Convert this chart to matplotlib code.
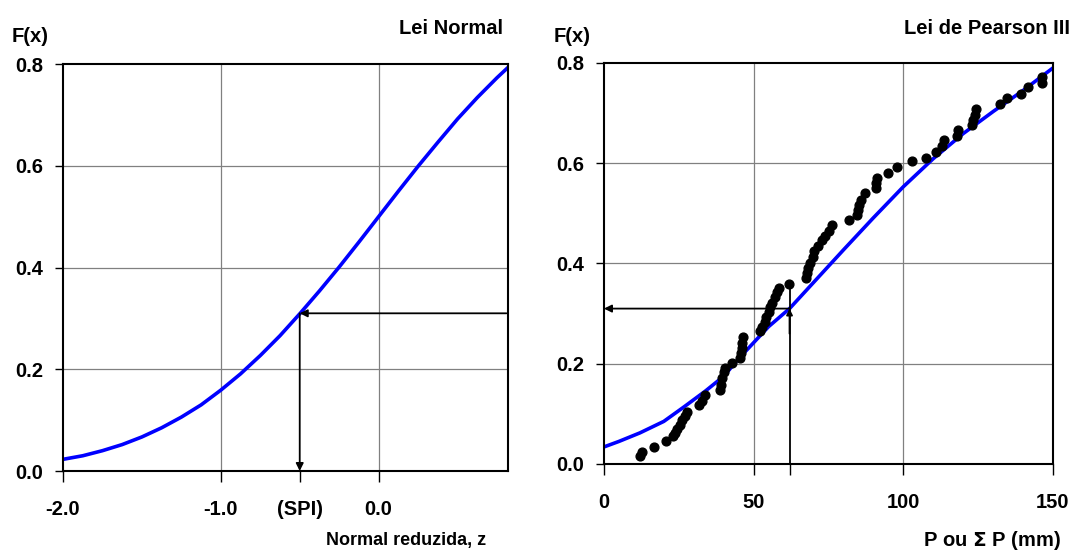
import matplotlib
matplotlib.use("Agg")
import matplotlib.pyplot as plt

# fonte parecida com Arial negrito
plt.rcParams['font.family'] = ['Liberation Sans', 'DejaVu Sans']
plt.rcParams['font.weight'] = 'bold'
plt.rcParams['axes.labelweight'] = 'bold'

# curva da lei normal
z_normal = [-2.0, -1.875, -1.75, -1.625, -1.5, -1.375, -1.25, -1.125, -1.0, -0.875, -0.75, -0.625, -0.5,
            -0.375, -0.25, -0.125, 0.0, 0.125, 0.25, 0.375, 0.5, 0.625, 0.75, 0.85]
f_normal = [0.023, 0.030, 0.040, 0.052, 0.067, 0.085, 0.106, 0.130, 0.159, 0.191, 0.227, 0.266, 0.309,
            0.354, 0.401, 0.450, 0.500, 0.550, 0.599, 0.646, 0.692, 0.734, 0.773, 0.802]

# curva da lei de Pearson III
x_pearson = [0, 5, 12, 20, 27, 34, 40, 45, 50, 55, 62, 70, 80, 90, 100, 110, 120, 130, 140, 150, 155]
f_pearson = [0.034, 0.045, 0.062, 0.085, 0.115, 0.146, 0.175, 0.210, 0.242, 0.274, 0.310, 0.362, 0.427,
             0.491, 0.553, 0.609, 0.659, 0.703, 0.745, 0.790, 0.810]

# pontos observados
p_obs = [12.0, 12.6, 16.8, 20.7, 22.9, 23.7, 24.4, 25.3, 26.2, 27.0, 27.6, 31.7, 32.6, 33.7, 38.7, 39.0,
         39.4, 40.0, 40.3, 42.9, 45.6, 45.9, 46.1, 46.2, 46.4, 52.0, 52.9, 53.7, 54.2, 55.0, 55.6, 56.2,
         57.3, 57.8, 58.4, 61.8, 67.6, 67.8, 68.1, 68.7, 69.8, 70.3, 71.4, 72.9, 74.0, 75.1, 76.2, 82.0,
         84.4, 84.9, 85.3, 85.9, 87.3, 90.9, 90.9, 91.1, 94.8, 97.8, 102.9, 107.6, 110.9, 113.1, 113.7,
         118.1, 118.4, 123.1, 123.4, 123.9, 124.4, 132.2, 134.8, 139.2, 141.7, 146.2, 146.4]
f_obs = [0.016, 0.023, 0.033, 0.045, 0.055, 0.062, 0.069, 0.078, 0.088, 0.096, 0.104, 0.118, 0.126, 0.138,
         0.148, 0.158, 0.171, 0.184, 0.191, 0.202, 0.211, 0.221, 0.231, 0.241, 0.254, 0.266, 0.274, 0.284,
         0.294, 0.304, 0.314, 0.322, 0.334, 0.343, 0.351, 0.359, 0.371, 0.381, 0.391, 0.401, 0.413, 0.424,
         0.435, 0.447, 0.455, 0.464, 0.477, 0.486, 0.497, 0.507, 0.517, 0.527, 0.540, 0.550, 0.560, 0.570,
         0.581, 0.593, 0.605, 0.611, 0.623, 0.635, 0.647, 0.655, 0.667, 0.677, 0.687, 0.697, 0.708, 0.719,
         0.730, 0.739, 0.752, 0.760, 0.773]

# valores do SPI
spi_z = -0.5
spi_f = 0.31
spi_p = 62
p_top = 0.36

fig = plt.figure(figsize=(10.72, 5.5), dpi=100)
ax1 = fig.add_axes([0.0588, 0.1436, 0.4151, 0.740])
ax2 = fig.add_axes([0.5634, 0.1564, 0.4188, 0.7291])

grid_cor = '#808080'
fs = 14.5

# ---- Lei Normal
ax1.plot(z_normal, f_normal, color='#0000ff', lw=2.6, zorder=3)
ax1.set_xlim(-2.0, 0.82)
ax1.set_ylim(0, 0.8)
for v in [-1.0, 0.0]:
    ax1.axvline(v, color=grid_cor, lw=0.9, zorder=1)
for v in [0.2, 0.4, 0.6]:
    ax1.axhline(v, color=grid_cor, lw=0.9, zorder=1)
ax1.set_xticks([-2.0, -1.0, spi_z, 0.0])
ax1.set_xticklabels(['-2.0', '-1.0', '(SPI)', '0.0'])
ax1.set_yticks([0.0, 0.2, 0.4, 0.6, 0.8])
ax1.set_yticklabels(['0.0', '0.2', '0.4', '0.6', '0.8'])
# setas
ax1.annotate('', xy=(spi_z, spi_f), xytext=(0.81, spi_f),
             arrowprops=dict(arrowstyle='-|>', color='black', lw=1.3, mutation_scale=11, shrinkA=0, shrinkB=0))
ax1.annotate('', xy=(spi_z, 0.0), xytext=(spi_z, spi_f),
             arrowprops=dict(arrowstyle='-|>', color='black', lw=1.3, mutation_scale=11, shrinkA=0, shrinkB=0))

# ---- Lei de Pearson III
ax2.plot(x_pearson, f_pearson, color='#0000ff', lw=2.6, zorder=3)
ax2.scatter(p_obs, f_obs, s=40, color='black', zorder=4, clip_on=False)
ax2.set_xlim(0, 150)
ax2.set_ylim(0, 0.8)
for v in [50, 100]:
    ax2.axvline(v, color=grid_cor, lw=0.9, zorder=1)
for v in [0.2, 0.4, 0.6]:
    ax2.axhline(v, color=grid_cor, lw=0.9, zorder=1)
ax2.set_xticks([0, 50, spi_p, 100, 150])
ax2.set_xticklabels(['0', '50', '', '100', '150'])
ax2.set_yticks([0.0, 0.2, 0.4, 0.6, 0.8])
ax2.set_yticklabels(['0.0', '0.2', '0.4', '0.6', '0.8'])
ax2.plot([spi_p, spi_p], [0, p_top], color='black', lw=1.3, zorder=5)
ax2.annotate('', xy=(spi_p, spi_f), xytext=(spi_p, spi_f - 0.05),
             arrowprops=dict(arrowstyle='-|>', color='black', lw=1.3, mutation_scale=9, shrinkA=0, shrinkB=0))
ax2.annotate('', xy=(0, spi_f), xytext=(spi_p, spi_f),
             arrowprops=dict(arrowstyle='-|>', color='black', lw=1.3, mutation_scale=11, shrinkA=0, shrinkB=0))

for ax in [ax1, ax2]:
    for s in ax.spines.values():
        s.set_linewidth(1.5)
        s.set_zorder(6)
    ax.tick_params(axis='x', direction='out', length=8, width=1, pad=13, labelsize=fs)
    ax.tick_params(axis='y', direction='out', length=6, width=1, pad=8, labelsize=fs)

# textos
fig.text(12 / 1072, 1 - 37 / 550, 'F(x)', fontsize=fs, fontweight='bold', va='center', ha='left')
fig.text(554 / 1072, 1 - 37 / 550, 'F(x)', fontsize=fs, fontweight='bold', va='center', ha='left')
fig.text(503 / 1072, 1 - 29 / 550, 'Lei Normal', fontsize=fs, fontweight='bold', va='center', ha='right')
fig.text(1070 / 1072, 1 - 28 / 550, 'Lei de Pearson III', fontsize=fs, fontweight='bold', va='center', ha='right')
fig.text(406 / 1072, 1 - 541 / 550, 'Normal reduzida, z', fontsize=13, fontweight='bold', va='center', ha='center')
fig.text(1061 / 1072, 1 - 540 / 550, 'P ou $\\Sigma$ P (mm)', fontsize=fs, fontweight='bold', va='center', ha='right')

plt.savefig('out.png', dpi=100)
